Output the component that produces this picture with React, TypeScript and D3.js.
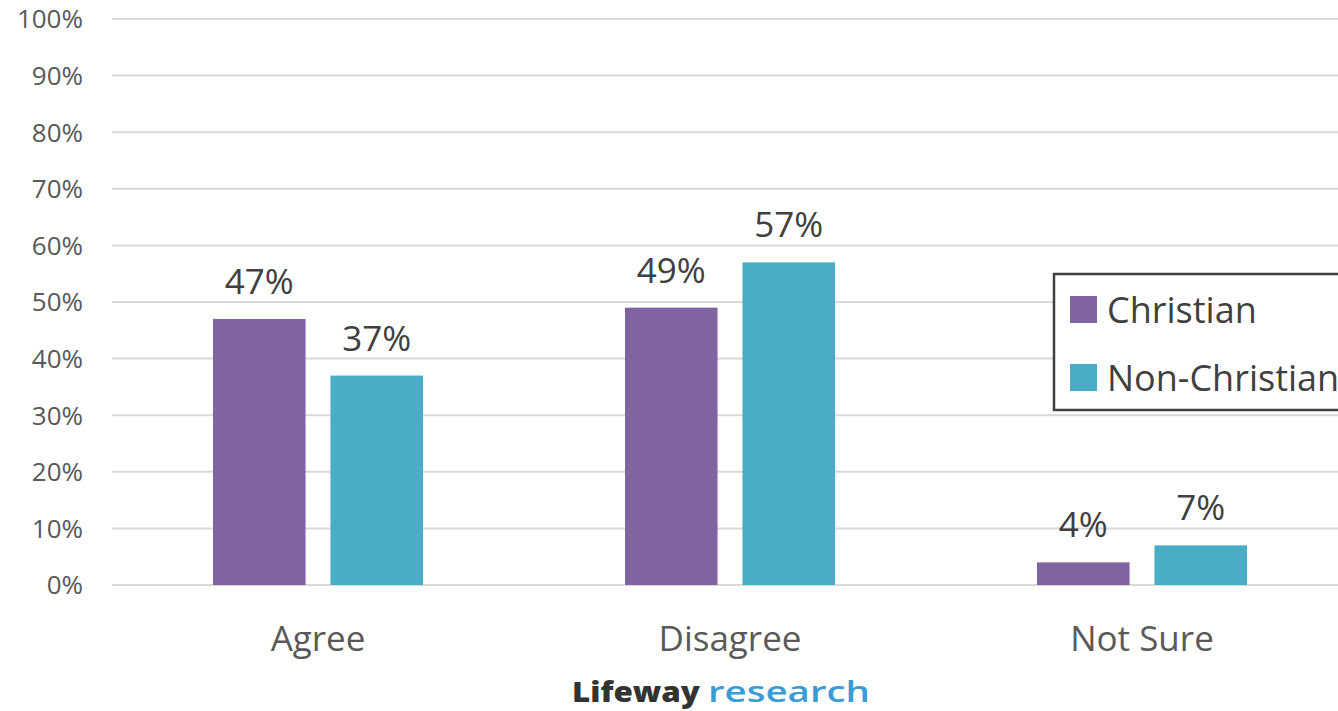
import React from "react";
import * as d3 from "d3";

const categories = ["Agree", "Disagree", "Not Sure"];
const seriesNames = ["Christian", "Non-Christian"];
const christian = [47, 49, 4];
const nonChristian = [37, 57, 7];
const yTicks = [0, 10, 20, 30, 40, 50, 60, 70, 80, 90, 100];
const colors = ["#8064A2", "#4BACC6"];

const W = 1338;
const H = 711;
const FONT = "'Open Sans', Lato, sans-serif";

export default function App() {
  const x = d3.scaleBand<string>().domain(categories).range([112, 1348]).paddingInner(0).paddingOuter(0);
  const x1 = d3.scaleBand<string>().domain(seriesNames).range([101, x.bandwidth() - 101]).paddingInner(25 / 118);
  const y = d3.scaleLinear().domain([0, 100]).range([585, 19]);
  const series = [christian, nonChristian];

  return (
    <svg width={W} height={H} style={{ position: "absolute", left: 0, top: 0, background: "#fff" }}>
      {yTicks.map((t) => (
        <g key={t}>
          <line x1={112} x2={W} y1={y(t)} y2={y(t)} stroke="#d9d9d9" strokeWidth={2} />
          <text x={83} y={y(t)} dy="0.36em" textAnchor="end" fontFamily={FONT} fontSize={26} fill="#595959">
            {t}%
          </text>
        </g>
      ))}
      {categories.map((c, i) => (
        <g key={c} transform={`translate(${x(c)},0)`}>
          {seriesNames.map((s, j) => {
            const v = series[j][i];
            const bx = x1(s)!;
            return (
              <g key={s}>
                <rect x={bx} y={y(v)} width={x1.bandwidth()} height={y(0) - y(v)} fill={colors[j]} />
                <text x={bx + x1.bandwidth() / 2} y={y(v) - 25} textAnchor="middle" fontFamily={FONT} fontSize={35} fill="#404040">
                  {v}%
                </text>
              </g>
            );
          })}
          <text x={x.bandwidth() / 2} y={651} textAnchor="middle" fontFamily={FONT} fontSize={35} fill="#595959">
            {c}
          </text>
        </g>
      ))}
      <g>
        <rect x={1054} y={274} width={300} height={136} fill="#fff" stroke="#404040" strokeWidth={2.5} />
        {seriesNames.map((s, j) => (
          <g key={s} transform={`translate(1070,${296 + j * 68})`}>
            <rect x={0} y={0} width={27} height={27} fill={colors[j]} />
            <text x={37} y={14} dy="0.36em" fontFamily={FONT} fontSize={36} fill="#404040">
              {s}
            </text>
          </g>
        ))}
      </g>
      <text x={572} y={702} fontFamily={FONT} fontSize={29} fill="#333" fontWeight={800} textLength={128} lengthAdjust="spacingAndGlyphs">
        Lifeway
      </text>
      <text x={708} y={702} fontFamily={FONT} fontSize={29} fill="#3a9bd5" fontWeight={600} textLength={162} lengthAdjust="spacingAndGlyphs">
        research
      </text>
    </svg>
  );
}
